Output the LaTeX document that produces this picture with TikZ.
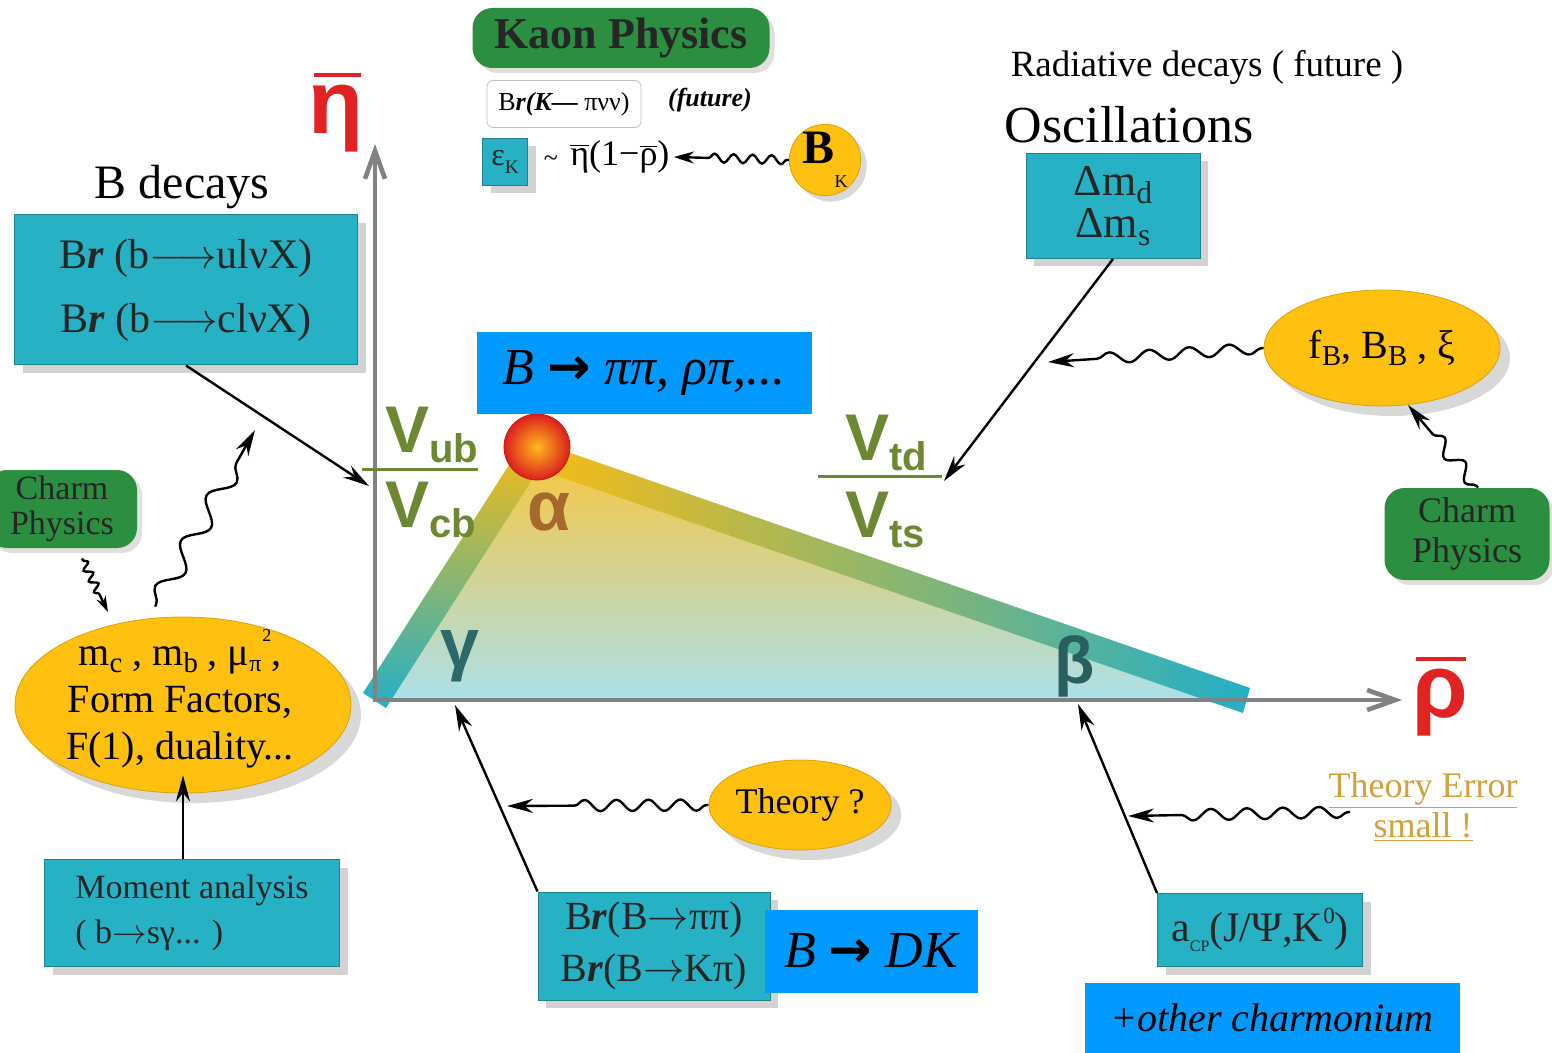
\documentclass[tikz,border=0pt]{standalone}
\usepackage{fontspec}
\setmainfont{Liberation Serif}
\newfontfamily\sansV{Liberation Sans}
\newfontfamily\djv{DejaVu Sans}
\usepackage{graphicx}
\usetikzlibrary{shapes.geometric,arrows.meta,decorations.pathmorphing,shadows,calc}

\definecolor{tealbox}{RGB}{38,178,196}
\definecolor{tealedge}{RGB}{30,130,145}
\definecolor{greenbox}{RGB}{44,142,64}
\definecolor{yell}{RGB}{255,192,15}
\definecolor{blu}{RGB}{0,153,255}
\definecolor{olivec}{RGB}{110,135,50}
\definecolor{alphac}{RGB}{165,105,45}
\definecolor{gamc}{RGB}{45,105,105}
\definecolor{redc}{RGB}{225,35,35}
\definecolor{axisc}{RGB}{130,130,130}
\definecolor{goldc}{RGB}{210,160,60}
\definecolor{bandteal}{RGB}{35,175,200}
\definecolor{bandyel}{RGB}{248,188,20}
\definecolor{bandmid}{RGB}{165,185,70}
\definecolor{filltop}{RGB}{250,198,60}
\definecolor{fillmid}{RGB}{248,228,150}
\definecolor{fillbot}{RGB}{172,224,234}
\definecolor{ballin}{RGB}{255,185,30}
\definecolor{ballout}{RGB}{220,30,30}

\newcommand\lowr[1]{\raisebox{-0.4ex}{\scalebox{0.72}{#1}}}
\newcommand\upr[1]{\raisebox{0.95ex}{\scalebox{0.55}{#1}}}
\newcommand\fs[2]{\fontsize{#1}{#2}\selectfont}

\begin{document}
\begin{tikzpicture}[x=0.5pt,y=-0.5pt,
  tealbx/.style={fill=tealbox, draw=tealedge, line width=0.5pt, inner sep=0pt, align=center, text=black!85,
    drop shadow={shadow xshift=4pt, shadow yshift=-4pt, opacity=0.35}},
  greenbx/.style={fill=greenbox, rounded corners=10pt, inner sep=0pt, align=center, text=black!85,
    drop shadow={shadow xshift=2.5pt, shadow yshift=-2.5pt, opacity=0.25}},
  yellell/.style={ellipse, fill=yell, draw=yell!85!black, line width=0.4pt, inner sep=0pt, align=center,
    drop shadow={shadow xshift=5pt, shadow yshift=-5pt, opacity=0.3}},
  bluebx/.style={fill=blu, inner sep=0pt, align=center},
  plain/.style={inner sep=0pt, align=center},
  arr/.style={line width=1.2pt, -{Stealth[length=13pt,width=7pt]}},
  wavy/.style={arr, decorate, decoration={snake, amplitude=2.8pt, segment length=20pt, post length=20pt, pre length=1pt}},
  vlab/.style={inner sep=0pt, text=olivec, font=\sansV\bfseries\fs{33}{33}},
  anglab/.style={inner sep=0pt, font=\sansV\bfseries\fs{35}{35}},
  axisline/.style={axisc, line width=2.3pt, -{Straight Barb[length=14pt,width=10pt]}},
]
\useasboundingbox (0,0) rectangle (1552,1053);
\fill[white] (0,0) rectangle (1552,1053);

% triangle fill and bands
\shade[top color=filltop, middle color=fillmid, bottom color=fillbot] (378,700) -- (537,447) -- (1235,700) -- cycle;
\shade[top color=bandyel, middle color=bandmid, bottom color=bandteal] (363,693) -- (525,440) -- (548,455) -- (386,708) -- cycle;
\shade[left color=bandyel, middle color=bandmid, right color=bandteal] (530,439) -- (1250,688) -- (1243,713) -- (540,470) -- cycle;

% axes
\coordinate (O) at (375,700);
\coordinate (ytop) at (375,144);
\coordinate (xend) at (1402,700);
\draw[axisline] (O) -- (ytop);
\draw[axisline] ([xshift=-1pt]O) -- (xend);

% apex ball
\node[circle, minimum size=33pt, inner sep=0pt, inner color=ballin, outer color=ballout, draw=ballout!90!black, line width=0.4pt] (ball) at (537,447) {};

% CKM ratios
\node[vlab, anchor=base west] (vub) at (385,452) {V\raisebox{-5pt}{\fs{20}{20}ub}};
\node[vlab, anchor=base west] (vcb) at (385,527) {V\raisebox{-5pt}{\fs{20}{20}cb}};
\draw[olivec, line width=1.5pt] (362,469) -- (478,469);
\node[vlab, anchor=base west] (vtd) at (845,460) {V\raisebox{-5pt}{\fs{20}{20}td}};
\node[vlab, anchor=base west] (vts) at (845,537) {V\raisebox{-5pt}{\fs{20}{20}ts}};
\draw[olivec, line width=1.5pt] (818,476) -- (942,476);

% angles
\node[anglab, text=alphac, anchor=base] (alpha) at (549,530) {α};
\node[anglab, text=gamc, anchor=base] (gamma) at (460,667) {γ};
\node[anglab, text=gamc!90!black, anchor=base, font=\sansV\bfseries\fs{33}{33}] (beta) at (1075,683) {β};

% axis labels
\node[inner sep=0pt, text=redc, font=\sansV\bfseries\fs{45}{45}, anchor=base] (eta) at (336,134) {η};
\draw[redc, line width=2pt] ([xshift=3pt,yshift=5pt]eta.north west) -- ([xshift=-1.5pt,yshift=5pt]eta.north east);
\node[inner sep=0pt, text=redc, font=\sansV\bfseries\fs{45}{45}, anchor=base] (rho) at (1440,717) {ρ};
\draw[redc, line width=2pt] ([xshift=2pt,yshift=4.5pt]rho.north west) -- ([xshift=-1pt,yshift=4.5pt]rho.north east);

% Kaon physics
\node[greenbx, minimum width=148.5pt, minimum height=30pt, font=\bfseries\fs{22}{22}] (kaon) at (621,38) {Kaon Physics};
\node[plain, draw=black!25, rounded corners=3pt, fill=white, minimum width=77pt, minimum height=23.5pt, font=\fs{13}{13}] (brk) at (564,104) {B\textbf{\textit{r(K—}} πνν)};
\node[plain, font=\bfseries\itshape\fs{13}{13}] (fut) at (710,100) {(future)};
\node[tealbx, minimum width=22.5pt, minimum height=23.5pt, font=\fs{16}{16}] (epsk) at (505,162) {ε\raisebox{-0.6ex}{\scalebox{0.6}{K}}};
\node[plain, font=\fs{13}{13}] (tld) at (551,161) {\textasciitilde};
\node[plain, font=\fs{18}{18}, anchor=west] (etarho) at (570,157) {$\overline{\hbox{η}}$(1−$\overline{\hbox{ρ}}$)};
\node[circle, fill=yell, draw=yell!85!black, line width=0.4pt, minimum size=35pt, inner sep=0pt,
  drop shadow={shadow xshift=3pt, shadow yshift=-3pt, opacity=0.3}] (bk) at (825,160)
  {\raisebox{4pt}{\bfseries\fs{24}{24}B}\raisebox{-8pt}{\fs{9}{9}K}};

% oscillations
\node[plain, font=\fs{18.5}{18.5}] (rad) at (1207,67) {Radiative decays ( future )};
\node[plain, font=\fs{26}{26}] (osc) at (1129,125) {Oscillations};
\node[tealbx, minimum width=87pt, minimum height=52.5pt, font=\fs{22}{21}] (dm) at (1113,206) {Δm\lowr{d}\\Δm\lowr{s}};
\node[yellell, minimum width=118pt, minimum height=58pt, font=\fs{20}{20}] (fB) at (1382,348) {f\lowr{B}, B\lowr{B} , ξ};
\node[greenbx, minimum width=82.5pt, minimum height=46pt, font=\fs{18}{20}] (charmR) at (1467,534) {Charm\\Physics};

% B decays
\node[plain, font=\fs{24}{24}] (bdt) at (182,187) {B decays};
\node[tealbx, minimum width=171.5pt, minimum height=75pt, font=\fs{21}{32}] (bdec) at (186,290)
  {B\textbf{\textit{r}} (b\(\longrightarrow\)ulνX)\\B\textbf{\textit{r}} (b\(\longrightarrow\)clνX)};
\node[greenbx, minimum width=75pt, minimum height=39pt, font=\fs{17}{17.5}] (charmL) at (62,509) {Charm\\Physics};
\node[yellell, minimum width=168pt, minimum height=88pt] (mc) at (183,705) {};
\node[plain, font=\fs{20}{23.5}] (mctext) at (180,699) {m\lowr{c} , m\lowr{b} , μ\raisebox{-0.3ex}{\fs{12}{12}π}\kern0.5pt\raisebox{1.3ex}{\fs{9}{9}2},\\Form Factors,\\F(1), duality...};
\node[tealbx, minimum width=147.5pt, minimum height=53.5pt, align=left, font=\fs{17}{22.5}] (moment) at (192,913) {Moment analysis\\( b\(\to\)sγ... )};

% blue boxes
\node[bluebx, minimum width=167.5pt, minimum height=41pt, font=\itshape\fs{26}{26}] (bpipi) at (644,373) {B {\upshape\djv\bfseries →} ππ, ρπ,...};

% bottom
\node[yellell, minimum width=78pt, minimum height=45pt, font=\fs{18}{18}] (theo) at (800,805) {Theory ?};
\node[tealbx, minimum width=116pt, minimum height=54pt, font=\fs{20}{26}] (brpp) at (654,946)
  {B\textbf{\textit{r}}(B\(\to\)ππ)\\B\textbf{\textit{r}}(B\(\to\)Kπ)};
\node[bluebx, minimum width=106.5pt, minimum height=41.5pt, font=\itshape\fs{26}{26}] (bdk) at (871,951) {B {\upshape\djv\bfseries →} DK};
\node[plain, text=goldc, font=\fs{18}{20}] (terr) at (1423,807) {\underline{Theory Error}\\\underline{small !}};
\node[tealbx, minimum width=102.5pt, minimum height=36.5pt, font=\fs{21}{21}] (acp) at (1260,930) {a\raisebox{-5pt}{\fs{8}{8}CP}(J/Ψ,K\upr{0})};
\node[bluebx, minimum width=187.5pt, minimum height=35pt, font=\itshape\fs{20}{20}] (oth) at (1272,1018) {+other charmonium};

% target points
\coordinate (vubtip) at (369,486);
\coordinate (vtdtip) at (944,481);
\coordinate (gamtip) at (455,705);
\coordinate (bettip) at (1078,704);
\coordinate (mcup) at (255,430);
\coordinate (charmLtip) at (108,612);
\coordinate (theotip) at (507,806);
\coordinate (terrtip) at (1128,816);
\coordinate (fbtip) at (1048,362);
\coordinate (charmRtip) at (1408,405);

% straight arrows
\draw[arr] (bdec.south) -- (vubtip);
\draw[arr] (moment.north -| mc.south) -- ($(mc.south)+(0,-18)$);
\draw[arr] (brpp.north west) -- (gamtip);
\draw[arr] (acp.north west) -- (bettip);
\draw[arr] (dm.south) -- (vtdtip);

% wavy arrows
\draw[wavy, -{Stealth[length=10pt,width=6pt]}, decoration={snake, amplitude=2.2pt, segment length=9.5pt, post length=14pt}] (bk.west) -- ([xshift=2pt]etarho.east);
\draw[wavy] (fB.west) -- (fbtip);
\draw[wavy, decoration={snake, amplitude=2.8pt, segment length=16pt, post length=26pt}] (theo.west) -- (theotip);
\draw[wavy, decoration={snake, amplitude=2.8pt, segment length=18pt, post length=18pt}] ($(terr.west)+(22,5)$) -- (terrtip);
\draw[wavy, decoration={snake, amplitude=3.5pt, segment length=16pt, post length=12pt}] ($(charmR.north)+(11,0)$) -- (charmRtip);
\draw[wavy, -{Stealth[length=8pt,width=5pt]}, decoration={snake, amplitude=2pt, segment length=6pt, post length=8pt}] ($(charmL.south)+(20,10)$) -- (charmLtip);
\draw[wavy, decoration={snake, amplitude=5pt, segment length=26pt, post length=12pt}] ($(mc.north)+(-28,-10)$) -- (mcup);
\end{tikzpicture}
\end{document}
